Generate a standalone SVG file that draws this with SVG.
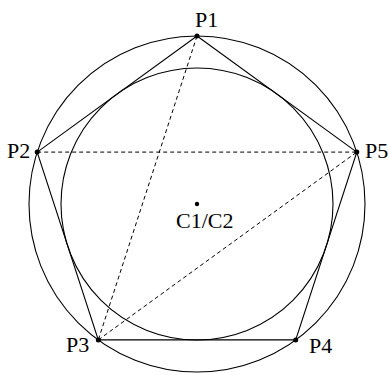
<svg xmlns="http://www.w3.org/2000/svg" width="389" height="375" viewBox="0 0 389 375">
<style>
.c{fill:none;stroke:#000;stroke-width:1.1}
.s{stroke:#000;stroke-width:1.1;fill:none}
.d{stroke:#000;stroke-width:1;stroke-dasharray:4 3;fill:none}
.p{fill:#000}
text{font-family:"Liberation Serif","Times New Roman",serif;font-size:22px;fill:#000}
</style>
<rect width="389" height="375" fill="#fff"/>
<g id="C1"><circle class="c" cx="197" cy="204" r="168"/></g>
<g id="C2"><circle class="c" cx="197" cy="204" r="136"/></g>
<g id="connectors">
<polygon class="s" points="197,36 37.2,152.1 98.3,339.9 295.7,339.9 356.8,152.1"/>
<line class="d" x1="197" y1="36" x2="98.3" y2="339.9"/>
<line class="d" x1="37.2" y1="152.1" x2="356.8" y2="152.1"/>
<line class="d" x1="98.3" y1="339.9" x2="356.8" y2="152.1"/>
</g>
<g id="P1"><circle class="p" cx="197" cy="36" r="2.5"/><text x="195" y="27">P1</text></g>
<g id="P2"><circle class="p" cx="37.2" cy="152.1" r="2.5"/><text x="7" y="158">P2</text></g>
<g id="P3"><circle class="p" cx="98.3" cy="339.9" r="2.5"/><text x="66" y="352">P3</text></g>
<g id="P4"><circle class="p" cx="295.7" cy="339.9" r="2.5"/><text x="309" y="353">P4</text></g>
<g id="P5"><circle class="p" cx="356.8" cy="152.1" r="2.5"/><text x="365" y="158">P5</text></g>
<g id="center"><circle class="p" cx="197" cy="204" r="2.2"/><text x="176" y="228">C1/C2</text></g>
</svg>
